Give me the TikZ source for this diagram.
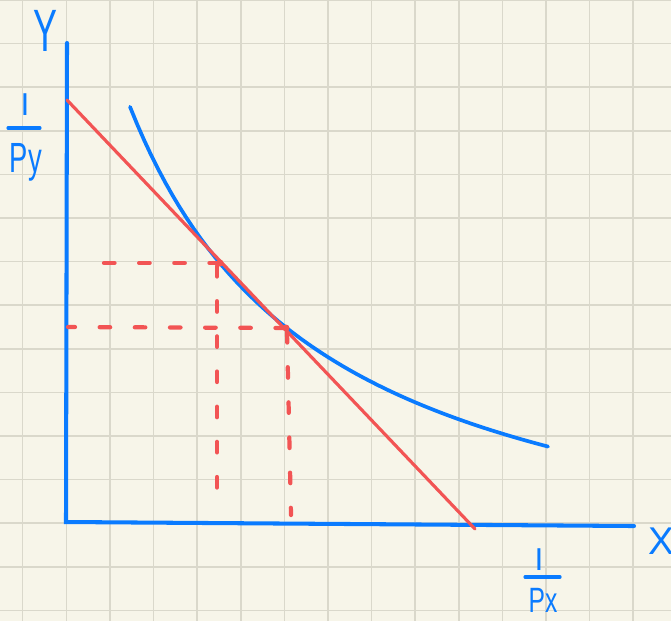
\documentclass[tikz,border=0pt]{standalone}
\usepackage{fontspec}
\setmainfont{Liberation Sans}
\begin{document}
\begin{tikzpicture}[x=0.01cm, y=-0.01cm,
  eje/.style={line width=1.15pt, draw=azul, line cap=round},
  presupuesto/.style={line width=0.9pt, draw=rojo, line cap=round},
  indiferencia/.style={line width=1.05pt, draw=azul, line cap=round},
  guia/.style={line width=1.2pt, draw=rojo, line cap=round, dash pattern=on 3pt off 7pt},
  cuadricula/.style={line width=0.45pt, draw=rejilla},
  etiqueta/.style={text=azul, inner sep=0pt}]
  \definecolor{papel}{HTML}{F7F5E9}
  \definecolor{rejilla}{HTML}{DAD8CB}
  \definecolor{azul}{HTML}{0A7BFF}
  \definecolor{rojo}{HTML}{F25454}
  \fill[papel] (0,0) rectangle (671,621);
  \useasboundingbox (0,0) rectangle (671,621);
  \foreach \i in {0,...,14}
    \draw[cuadricula] ({22.7+43.6*\i},0) -- ({22.7+43.6*\i},621);
  \foreach \j in {0,...,14}
    \draw[cuadricula] (0,{43.6*\j}) -- (671,{43.6*\j});

  \coordinate (ytope) at (67,43);
  \coordinate (origen) at (66,522);
  \coordinate (xfin) at (634,526);
  \draw[eje] (ytope) -- (origen) -- (xfin);
  \draw[indiferencia] plot[domain=130:548, samples=60]
    (\x, {607.5-991/(0.01*\x+0.68)}); % curva de indiferencia
  \coordinate (corteY) at (67,100);
  \coordinate (corteX) at (475,529);
  \draw[presupuesto] (corteY) -- (corteX); % recta de presupuesto
  \coordinate (E1) at (220,263);
  \coordinate (E2) at (286,328);
  \draw[guia] (E1) -- (87,263);
  \draw[guia] (217,266) -- (217,510);
  \draw[guia] (E2) -- (68,327);
  \draw[guia] (287,332) -- (291,515);
  \fill[rojo] (E1) circle (3.5);
  \fill[rojo] (E2) circle (3.5);

  \node[etiqueta, font=\fontsize{17}{20}\selectfont] (ejeY) at (45,31) {\scalebox{0.6}[1]{Y}};
  \node[etiqueta, font=\fontsize{11}{13}\selectfont] (ejeX) at (661,541) {X};
  \node[etiqueta, font=\fontsize{9}{11}\selectfont] (ingresoY) at (25,105) {I};
  \draw[eje, line width=0.9pt] (8,128) -- (40,128);
  \node[etiqueta, font=\fontsize{12}{14}\selectfont] (precioY) at (26,162) {\scalebox{0.65}[1]{Py}};
  \node[etiqueta, font=\fontsize{9}{11}\selectfont] (ingresoX) at (539,560) {I};
  \draw[eje, line width=0.9pt] (525,577) -- (560,577);
  \node[etiqueta, font=\fontsize{10}{12}\selectfont] (precioX) at (543,600) {\scalebox{0.7}[1]{Px}};
\end{tikzpicture}
\end{document}
